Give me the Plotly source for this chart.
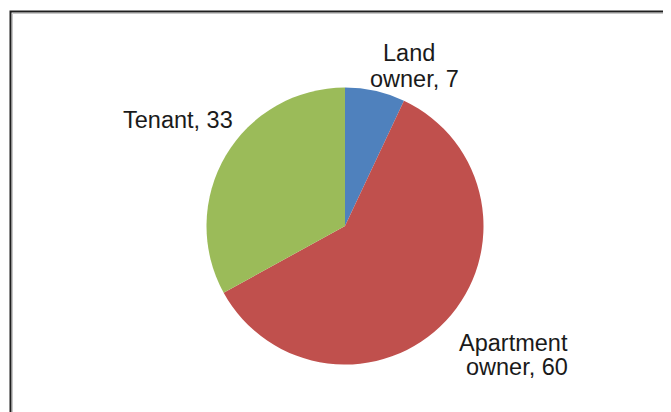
import plotly.graph_objects as go

categories = ["Land owner", "Apartment owner", "Tenant"]
values = [7, 60, 33]
label_lines = [["Land", "owner, 7"], ["Apartment", "owner, 60"], ["Tenant, 33"]]
colors = ["#4F81BD", "#C0504D", "#9BBB59"]

W, H = 671, 412
OFF = 8  # page body margin offset
cx, cy, r = 345 - OFF, 226 - OFF, 138.5

fig = go.Figure(go.Pie(
    labels=categories,
    values=values,
    sort=False,
    direction="clockwise",
    rotation=0,
    marker=dict(colors=colors, line=dict(width=0)),
    textinfo="none",
    hoverinfo="label+value",
    showlegend=False,
    domain=dict(x=[(cx - r) / W, (cx + r) / W], y=[1 - (cy + r) / H, 1 - (cy - r) / H]),
))

# per-line label centers in page pixels
line_pos = [[(409, 53), (414, 79)], [(514, 343), (517, 367)], [(178, 120)]]
for lines, poss in zip(label_lines, line_pos):
    for txt, (px, py) in zip(lines, poss):
        fig.add_annotation(
            x=(px - OFF) / W, y=1 - (py - OFF) / H, xref="paper", yref="paper",
            text=txt, showarrow=False, align="center",
            xanchor="center", yanchor="middle",
            font=dict(family="Liberation Sans, Arial", size=23.5, color="#1a1a1a"),
        )

# chart frame (cropped at right and bottom)
fx, fy = 10.5 - OFF, 11.5 - OFF
fig.add_shape(type="path", xref="paper", yref="paper",
              path=f"M {fx/W} 0 L {fx/W} {1-fy/H} L 1 {1-fy/H}",
              line=dict(color="#1f1f1f", width=2))
fig.add_shape(type="path", xref="paper", yref="paper",
              path=f"M {(fx+2)/W} 0 L {(fx+2)/W} {1-(fy+2)/H} L 1 {1-(fy+2)/H}",
              line=dict(color="#c8c8c8", width=1))

fig.update_layout(
    width=W, height=H,
    margin=dict(l=0, r=0, t=0, b=0),
    paper_bgcolor="white", plot_bgcolor="white",
)
fig.write_html("out.html")
